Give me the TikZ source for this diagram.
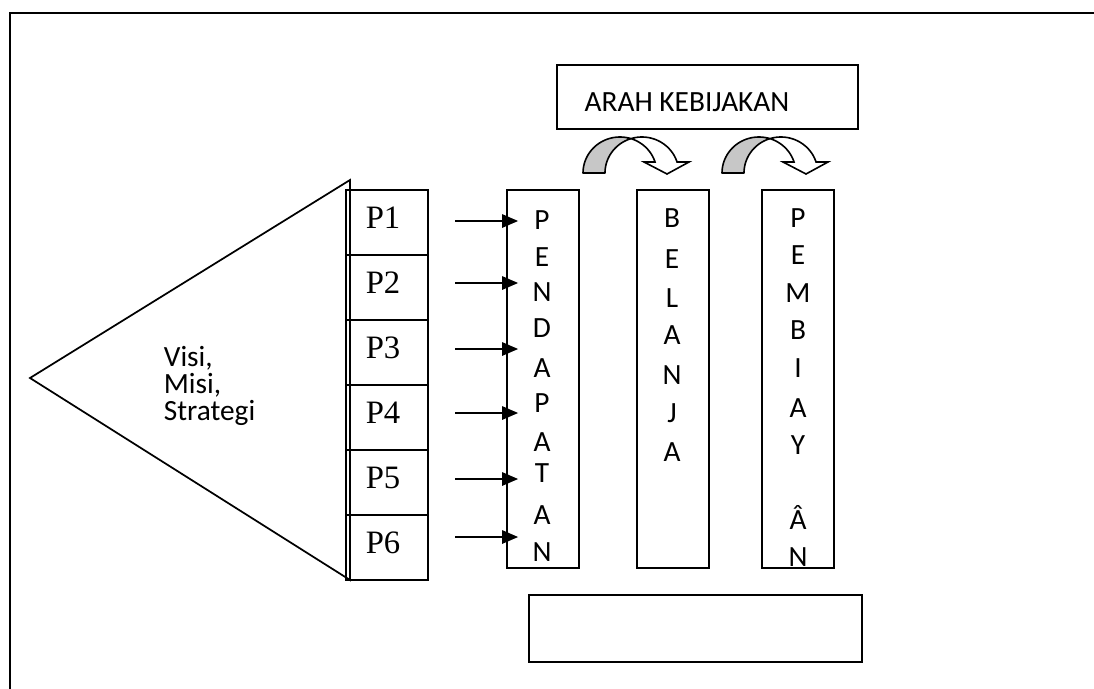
\documentclass[tikz,border=0pt]{standalone}
\usepackage{fontspec}
\setmainfont{Liberation Serif}
\newfontfamily\lettersfont{Carlito}
\usetikzlibrary{arrows.meta,fit,calc}

\begin{document}
\begin{tikzpicture}[x=0.75pt,y=-0.75pt,
  line width=1.3pt,
  box/.style={draw, line width=1.3pt, inner sep=0pt},
  plabel/.style={font=\fontsize{24.5}{24.5}\selectfont, inner sep=0pt},
  letter/.style={font=\lettersfont\fontsize{22}{22}\selectfont, anchor=base, inner sep=0pt},
  feed/.style={-{Triangle[length=12pt,width=10pt]}, line width=1.3pt},
  backband/.style={fill=black!22, draw, line width=1.2pt, line join=round},
  frontband/.style={fill=white, draw, line width=1.2pt, line join=miter}]

\fill[white] (0,0) rectangle (1094,688);
\useasboundingbox (0,0) rectangle (1094,688);

% page frame (only top and left edges fall inside)
\draw[line width=1.8pt] (10,700) -- (10,13) -- (1100,13);

% policy direction box
\node[box, fit={(557,65) (858,129)}] (arah) {};
\node[letter, anchor=center] (arahtxt) at (687,102.5) {ARAH KEBIJAKAN};

% vision triangle
\coordinate (apex) at (30,378);
\coordinate (ttop) at (350,180);
\coordinate (tbot) at (350,580);
\draw (apex) -- (ttop) -- (tbot) -- cycle;
\node[letter, anchor=base west] (visi) at (163,366) {Visi,};
\node[letter, anchor=base west] (misi) at (163,393) {Misi,};
\node[letter, anchor=base west] (strat) at (163,420) {Strategi};

% program boxes P1..P6
\foreach \i/\t in {1/190,2/255,3/320,4/385,5/450,6/515} {
  \node[box, fit={(346,\t) ({428},{\t+65})}] (p\i) {};
  \node[plabel] (pl\i) at ($(p\i.center)+(-4,-5)$) {P\i};
}

% budget columns
\node[box, fit={(507,190) (579,568)}] (pend) {};
\node[box, fit={(637,190) (709,568)}] (bel) {};
\node[box, fit={(762,190) (834,568)}] (pemb) {};

\foreach \c/\y [count=\k] in {P/220,E/257,N/292,D/328,A/368,P/403,A/442,T/473,A/515,N/552}
  \node[letter] (pd\k) at (542,{\y+9}) {\c};
\foreach \c/\y [count=\k] in {B/218,E/259,L/298,A/335,N/375,J/413,A/452}
  \node[letter] (bl\k) at (672,{\y+9}) {\c};
\foreach \c/\y [count=\k] in {P/218,E/255,M/293,B/330,I/368,A/408,Y/445,Â/520,N/557}
  \node[letter] (pb\k) at (798,{\y+9}) {\c};

% feeds from programs into revenue
\foreach \i/\y in {1/221,2/283,3/349,4/413,5/479,6/537} {
  \coordinate (a\i) at (455,\y);
  \coordinate (e\i) at ($(a\i -| pend.west)+(12,0)$);
  \draw[feed] (a\i) -- (e\i);
}

% empty box below
\node[box, fit={(529,595) (862,662)}] (bawah) {};

% curved arrows between the columns
\foreach \dx in {0,139} {
  \begin{scope}[shift={(\dx,0)}]
    % back part of the band
    \draw[backband]
      plot[domain=0:1, samples=30] ({619.9+36.9*cos(180+107.3*\x)},{173+36*sin(180+107.3*\x)})
      -- plot[domain=0:1, samples=30] ({641.9+36.9*cos(252.7-72.7*\x)},{173+36*sin(252.7-72.7*\x)})
      -- cycle;
    % front part with the head
    \draw[frontband]
      plot[domain=0:1, samples=30] ({619.9+36.9*cos(342.2-54.9*\x)},{173+36*sin(342.2-54.9*\x)})
      -- plot[domain=0:1, samples=30] ({641.9+36.9*cos(252.7+89.5*\x)},{173+36*sin(252.7+89.5*\x)})
      -- (689,162) -- (667,174) -- (644,162) -- cycle;
  \end{scope}
}
\end{tikzpicture}
\end{document}
